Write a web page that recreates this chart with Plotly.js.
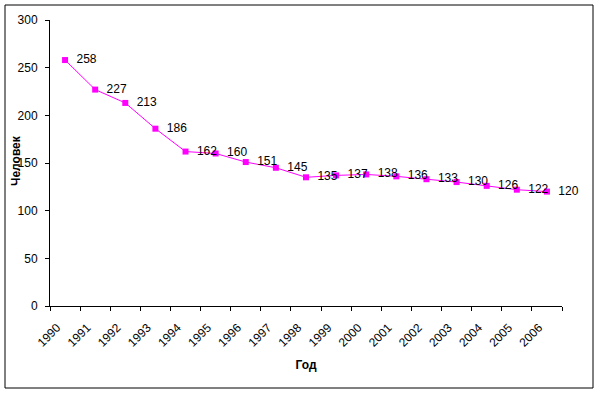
<!DOCTYPE html>
<html>
<head>
<meta charset="utf-8">
<script src="https://cdn.plot.ly/plotly-3.0.1.min.js"></script>
<style>html,body{margin:0;padding:0;background:#fff;}#chart{width:599px;height:394px;}</style>
</head>
<body>
<div id="chart"></div>
<script>
const years = ["1990","1991","1992","1993","1994","1995","1996","1997","1998","1999","2000","2001","2002","2003","2004","2005","2006"];
const people = [258,227,213,186,162,160,151,145,135,137,138,136,133,130,126,122,120];
const yTicks = [0,50,100,150,200,250,300];

const font = {family: "Liberation Sans, Arial, sans-serif", size: 12, color: "#000"};

const trace = {
  x: years,
  y: people,
  type: "scatter",
  mode: "lines+markers+text",
  text: people.map(v => "\u00a0\u00a0" + v),
  textposition: "middle right",
  textfont: font,
  line: {color: "#ff00ff", width: 1},
  marker: {symbol: "square", size: 6, color: "#ff00ff"},
  cliponaxis: false,
  hoverinfo: "skip"
};

const layout = {
  width: 599, height: 394,
  margin: {l: 50, r: 37, t: 20, b: 88},
  paper_bgcolor: "#fff", plot_bgcolor: "#fff",
  showlegend: false,
  font: font,
  xaxis: {
    type: "category",
    range: [-0.5, 16.5],
    tickson: "boundaries",
    ticks: "outside", ticklen: 4, tickcolor: "#000",
    tickangle: -45,
    ticklabelstandoff: 9,
    ticklabelshift: -8,
    showline: true, linecolor: "#000", linewidth: 1,
    showgrid: false, zeroline: false,
    tickfont: font,
    title: {text: "<b>Год</b>", font: font, standoff: 11}
  },
  yaxis: {
    range: [0, 300],
    tickvals: yTicks,
    ticks: "outside", ticklen: 4, tickcolor: "#000",
    ticklabelstandoff: 5,
    showline: true, linecolor: "#000", linewidth: 1,
    showgrid: false, zeroline: false,
    tickfont: font
  },
  annotations: [{
    text: "<b>Человек</b>", font: font, textangle: -90,
    xref: "paper", yref: "paper",
    x: (16 - 50) / 512, y: (306 - 161) / 286,
    xanchor: "center", yanchor: "middle", showarrow: false
  }],
  shapes: [{
    type: "rect", xref: "paper", yref: "paper",
    x0: (5 - 50) / 512, x1: (593 - 50) / 512,
    y0: (306 - 388) / 286, y1: (306 - 5) / 286,
    line: {color: "#000", width: 1}, fillcolor: "rgba(0,0,0,0)"
  }]
};

Plotly.newPlot("chart", [trace], layout, {staticPlot: true});
</script>
</body>
</html>
